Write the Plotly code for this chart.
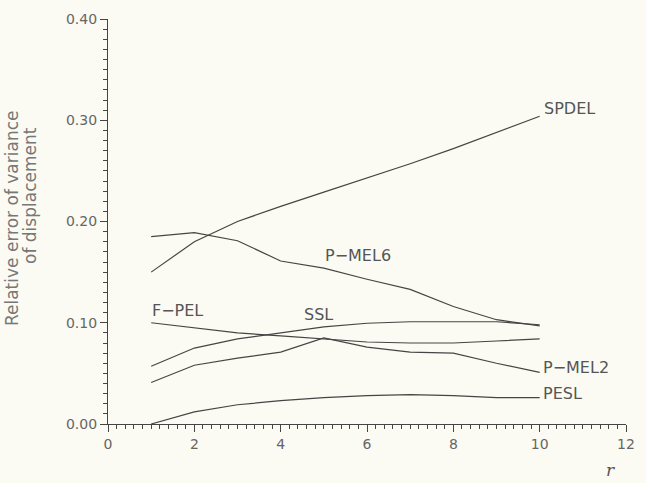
import plotly.graph_objects as go

r = [1, 2, 3, 4, 5, 6, 7, 8, 9, 10]
spdel = [0.150, 0.180, 0.200, 0.215, 0.229, 0.243, 0.257, 0.272, 0.288, 0.304]
p_mel6 = [0.185, 0.189, 0.181, 0.161, 0.154, 0.143, 0.133, 0.116, 0.103, 0.097]
f_pel = [0.100, 0.095, 0.090, 0.087, 0.084, 0.081, 0.080, 0.080, 0.082, 0.084]
ssl = [0.057, 0.075, 0.084, 0.090, 0.096, 0.0995, 0.101, 0.101, 0.101, 0.098]
p_mel2 = [0.041, 0.058, 0.065, 0.071, 0.085, 0.076, 0.071, 0.070, 0.060, 0.051]
pesl = [0.000, 0.012, 0.019, 0.023, 0.026, 0.028, 0.029, 0.028, 0.026, 0.026]

series = [("SPDEL", spdel), ("P-MEL6", p_mel6), ("F-PEL", f_pel),
          ("SSL", ssl), ("P-MEL2", p_mel2), ("PESL", pesl)]

# label anchor positions (data coords)
labels = [("SPDEL", 10.05, 0.312), ("P\u2212MEL6", 4.97, 0.166), ("F\u2212PEL", 0.98, 0.112),
          ("SSL", 4.5, 0.108), ("P\u2212MEL2", 10.02, 0.056), ("PESL", 10.02, 0.030)]

line_col = "#454545"
txt_col = "#555555"
font_fam = "DejaVu Sans, Liberation Sans, sans-serif"

fig = go.Figure()
for name, ys in series:
    fig.add_trace(go.Scatter(x=r, y=ys, mode="lines", name=name,
                             line=dict(color=line_col, width=1.2), showlegend=False))

for txt, x, y in labels:
    fig.add_annotation(x=x, y=y, text=txt, showarrow=False, xanchor="left", yanchor="middle",
                       font=dict(family=font_fam, size=16, color=txt_col))

fig.add_annotation(xref="paper", yref="paper", x=-0.185, y=0.509, text="Relative error of variance",
                   textangle=-90, showarrow=False, xanchor="center", yanchor="middle",
                   font=dict(family=font_fam, size=17, color="#777777"))
fig.add_annotation(xref="paper", yref="paper", x=-0.151, y=0.565, text="of displacement",
                   textangle=-90, showarrow=False, xanchor="center", yanchor="middle",
                   font=dict(family=font_fam, size=17, color="#777777"))
fig.add_annotation(xref="paper", yref="paper", x=0.97, y=-0.143, text="<i>r</i>",
                   showarrow=False, xanchor="center", yanchor="bottom",
                   font=dict(family="DejaVu Serif, Liberation Serif, serif", size=17, color="#555555"))

fig.update_layout(
    width=646, height=483,
    margin=dict(l=108, r=11, t=19, b=59),
    paper_bgcolor="#fbfbf3", plot_bgcolor="#fbfbf3",
    font=dict(family=font_fam, size=13, color=txt_col),
)
fig.update_xaxes(range=[0, 12], tick0=0, dtick=2, showgrid=False, zeroline=False,
                 showline=True, linecolor=line_col, linewidth=1.2,
                 ticks="outside", ticklen=7, tickcolor=line_col, tickwidth=1.2,
                 minor=dict(dtick=0.2, ticklen=4, tickcolor=line_col, ticks="outside", showgrid=False),
                 tickfont=dict(size=14, color="#666666"))
fig.update_yaxes(range=[0, 0.40], tick0=0, dtick=0.1, tickformat=".2f", showgrid=False, zeroline=False,
                 showline=True, linecolor=line_col, linewidth=1.2,
                 ticks="outside", ticklen=7, tickcolor=line_col, tickwidth=1.2,
                 minor=dict(dtick=0.01, ticklen=4, tickcolor=line_col, ticks="outside", showgrid=False),
                 tickfont=dict(size=14, color="#666666"))

fig.write_html("out.html")
